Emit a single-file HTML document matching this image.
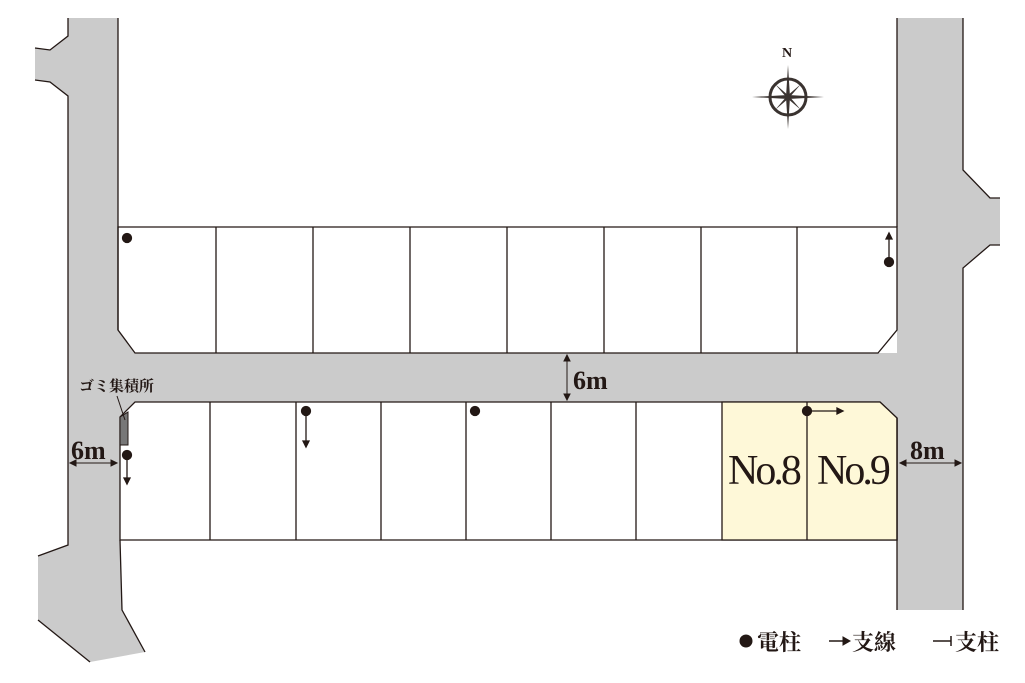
<!DOCTYPE html>
<html><head><meta charset="utf-8"><style>
html,body{margin:0;padding:0;background:#fff;}
svg{display:block;}
text{font-family:"Liberation Serif","Noto Serif CJK SC",serif;fill:#231815;}
</style></head><body>
<svg width="1025" height="683" viewBox="0 0 1025 683" xmlns="http://www.w3.org/2000/svg">
<g fill="#cbcbcb" stroke="none">
<polygon points="68,18 118,18 118,330 135,353 897,353 897,18 963,18 963,170 990,198 1000,198 1000,245 990,245 963,268 963,610 897,610 897,418 880,402 135,402 120,417 120,540 122,610 145,652 90,662 38,620 38,556 68,545 68,96 50,82 35,80 35,48 50,50 68,36"/>
</g>
<polygon points="118,227 897,227 897,330 878,353 135,353 118,330" fill="#fff" stroke="#231815" stroke-width="1.3"/>
<polygon points="135,402 880,402 897,418 897,540 120,540 120,417" fill="#fff" stroke="#231815" stroke-width="1.3"/>
<polygon points="722,402 880,402 897,418 897,540 722,540" fill="#fef8d8" stroke="#231815" stroke-width="1.3"/>
<g stroke="#231815" stroke-width="1.3">
<line x1="216" y1="227" x2="216" y2="353"/><line x1="313" y1="227" x2="313" y2="353"/>
<line x1="410" y1="227" x2="410" y2="353"/><line x1="507" y1="227" x2="507" y2="353"/>
<line x1="604" y1="227" x2="604" y2="353"/><line x1="701" y1="227" x2="701" y2="353"/>
<line x1="797" y1="227" x2="797" y2="353"/>
<line x1="210" y1="402" x2="210" y2="540"/><line x1="296" y1="402" x2="296" y2="540"/>
<line x1="381" y1="402" x2="381" y2="540"/><line x1="466" y1="402" x2="466" y2="540"/>
<line x1="551" y1="402" x2="551" y2="540"/><line x1="636" y1="402" x2="636" y2="540"/>
<line x1="807" y1="402" x2="807" y2="540"/>
</g>
<g fill="none" stroke="#231815" stroke-width="1.3">
<polyline points="68,18 68,36 50,50 35,48"/>
<polyline points="35,80 50,82 68,96 68,545 38,556"/>
<polyline points="38,620 90,662"/>
<polyline points="118,18 118,330"/>
<polyline points="120,540 122,610 145,652"/>
<polyline points="897,18 897,227"/>
<polyline points="963,18 963,170 990,198 1000,198"/>
<polyline points="1000,245 990,245 963,268 963,610"/>
<polyline points="897,418 897,610"/>
</g>
<g fill="#231815" stroke="#231815" stroke-width="1.3">
<circle cx="127" cy="238" r="4.5"/>
<circle cx="889" cy="262" r="4.5"/><line x1="889" y1="262" x2="889" y2="236"/><polygon points="886,239 892,239 889,233"/>
<circle cx="306" cy="411" r="4.5"/><line x1="306" y1="411" x2="306" y2="444"/><polygon points="303,441 309,441 306,447"/>
<circle cx="475" cy="411" r="4.5"/>
<circle cx="807" cy="411" r="4.5"/><line x1="807" y1="411" x2="840" y2="411"/><polygon points="837,408 837,414 843,411"/>
<circle cx="127" cy="455" r="4.5"/><line x1="127" y1="455" x2="127" y2="480"/><polygon points="124,478 130,478 127,484"/>
</g>
<polygon points="120,417 128,412 128,445 120,445" fill="#777" stroke="#231815" stroke-width="1"/>
<line x1="117" y1="396" x2="125" y2="420" stroke="#231815" stroke-width="1"/>
<text x="79" y="391" font-size="15" font-weight="bold">ゴミ集積所</text>
<g stroke="#231815" stroke-width="1" fill="#231815">
<line x1="70" y1="463" x2="117" y2="463"/><polygon points="70,463 76,460 76,466"/><polygon points="117,463 111,460 111,466"/>
<line x1="900" y1="463" x2="961" y2="463"/><polygon points="900,463 906,460 906,466"/><polygon points="961,463 955,460 955,466"/>
<line x1="567" y1="355" x2="567" y2="400"/><polygon points="567,355 564,361 570,361"/><polygon points="567,400 564,394 570,394"/>
</g>
<text x="71" y="459" font-size="26" font-weight="bold">6m</text>
<text x="910" y="459" font-size="26" font-weight="bold">8m</text>
<text x="573" y="389" font-size="26" font-weight="bold">6m</text>
<text x="728" y="484" font-size="42" letter-spacing="-3">No.8</text>
<text x="817" y="484" font-size="42" letter-spacing="-3">No.9</text>
<g transform="translate(788,97)" stroke="#3a3330" fill="none">
<circle r="18" stroke-width="3"/>
<g fill="#3a3330" stroke="none">
<polygon points="0,-32 2,0 0,32 -2,0"/>
<polygon points="-36,0 0,-2 36,0 0,2"/>
<polygon points="-13,-13 1,-1 13,13 -1,1"/>
<polygon points="13,-13 1,1 -13,13 -1,-1"/>
</g>
</g>
<text x="782" y="57" font-size="14" font-weight="bold">N</text>
<g fill="#231815" stroke="#231815">
<circle cx="746" cy="641" r="6"/>
<line x1="829" y1="641" x2="846" y2="641" stroke-width="1.5"/><polygon points="843,637 843,645 850,641"/>
<line x1="933" y1="641" x2="951" y2="641" stroke-width="1.5"/><line x1="951" y1="636" x2="951" y2="646" stroke-width="1.5"/>
</g>
<text x="757" y="650" font-size="22" font-weight="bold">電柱</text>
<text x="852" y="650" font-size="22" font-weight="bold">支線</text>
<text x="955" y="650" font-size="22" font-weight="bold">支柱</text>
</svg>
</body></html>
